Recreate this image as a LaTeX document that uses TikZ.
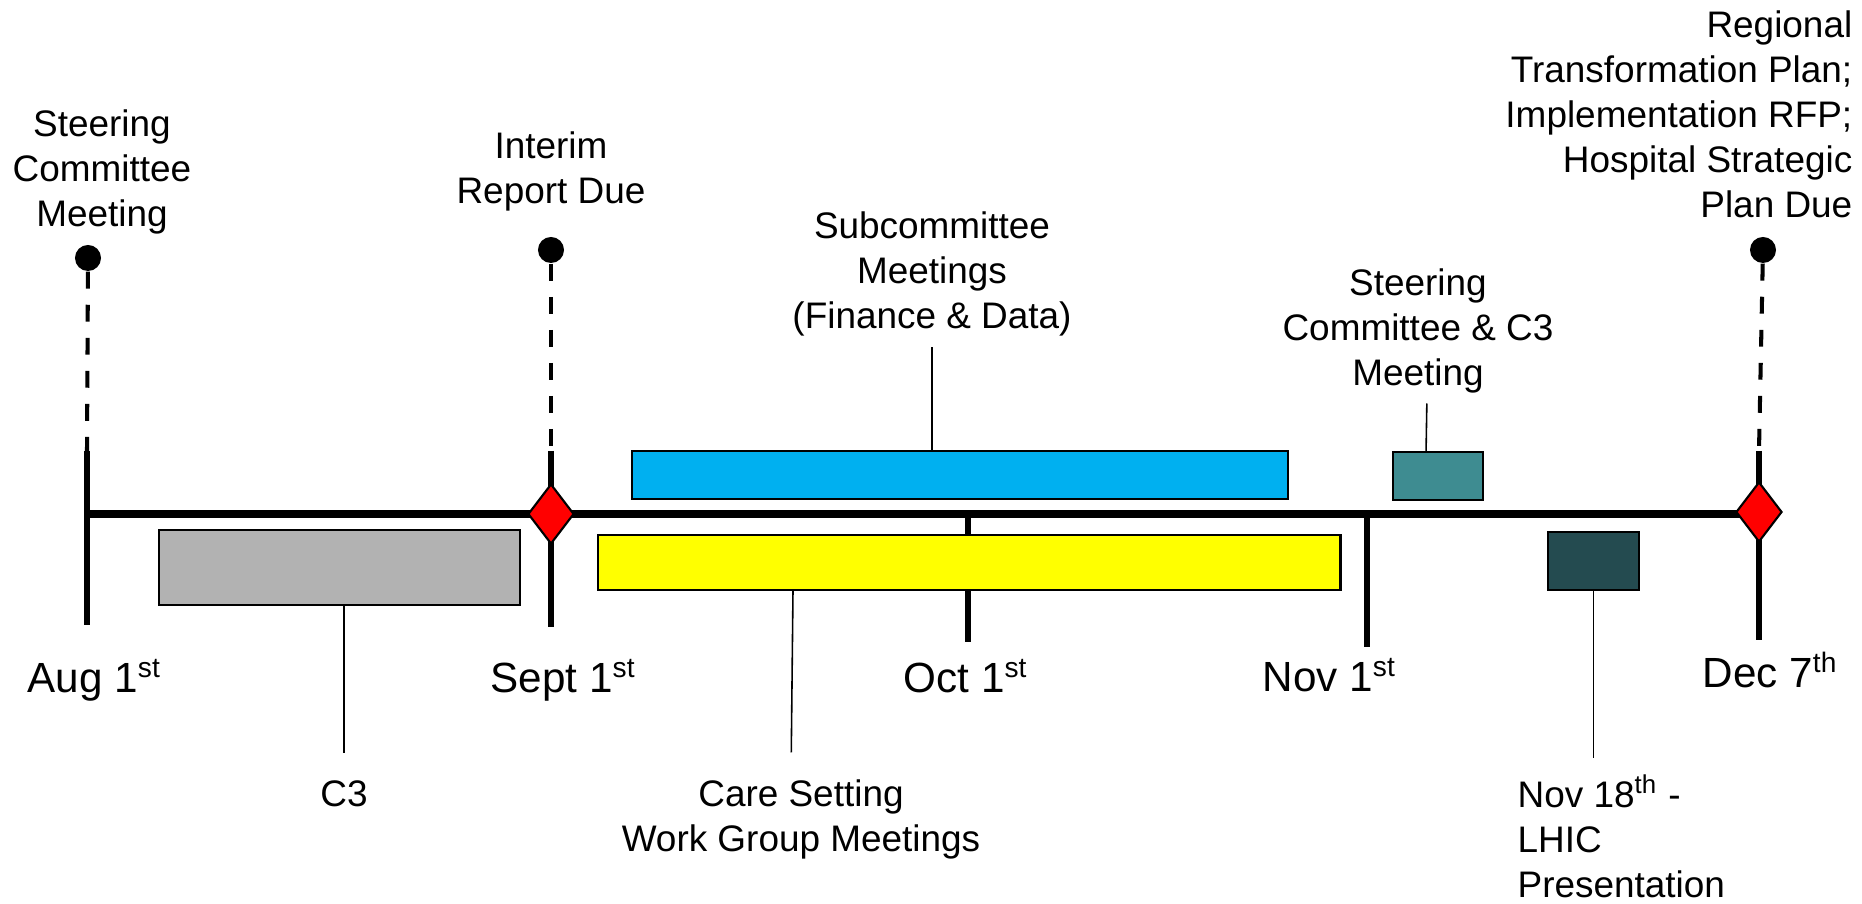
\documentclass[tikz,border=0pt]{standalone}
\usepackage{fontspec}
\setmainfont{Liberation Sans}
\usetikzlibrary{shapes.geometric}

\definecolor{cthree}{HTML}{B2B2B2}
\definecolor{subcom}{HTML}{00B0F0}
\definecolor{workgrp}{HTML}{FFFF00}
\definecolor{steer}{HTML}{3E8C91}
\definecolor{lhic}{HTML}{244B50}

\begin{document}
\begin{tikzpicture}[x=0.01cm,y=-0.01cm,
    lbl/.style={inner sep=0pt,font=\fontsize{10.5}{12.8}\selectfont},
    datelbl/.style={inner sep=0pt,anchor=base west,font=\fontsize{12}{14}\selectfont},
    bar/.style={draw,line width=0.6pt,anchor=north west,inner sep=0pt},
    tick/.style={line width=1.45pt},
    dashline/.style={line width=1.15pt,dash pattern=on 4.8pt off 4.6pt},
    link/.style={line width=0.45pt},
    dot/.style={circle,fill,inner sep=0pt,minimum size=0.26cm},
    due/.style={diamond,draw,fill=red,line width=0.6pt,inner sep=0pt,
      minimum width=0.46cm,minimum height=0.6cm}]
  \useasboundingbox (0,0) rectangle (1862,904);
  % months on the axis
  \coordinate (augT) at (87,451);   \coordinate (augB) at (87,625);
  \coordinate (sepT) at (551,451);  \coordinate (sepB) at (551,627);
  \coordinate (octT) at (968,514);  \coordinate (octB) at (968,642);
  \coordinate (novT) at (1367,514); \coordinate (novB) at (1367,647);
  \coordinate (decT) at (1759,451); \coordinate (decB) at (1759,640);
  \foreach \m in {aug,sep,oct,nov,dec} \draw[tick] (\m T) -- (\m B);
  \draw[line width=2.3pt] (augT |- octT) -- (decT |- octT);
  \node[datelbl] (augLbl) at (27,693) {Aug 1\textsuperscript{st}};
  \node[datelbl] (sepLbl) at (490,693) {Sept 1\textsuperscript{st}};
  \node[datelbl] (octLbl) at (903,693) {Oct 1\textsuperscript{st}};
  \node[datelbl] (novLbl) at (1262,692) {Nov 1\textsuperscript{st}};
  \node[datelbl] (decLbl) at (1702,688) {Dec 7\textsuperscript{th}};
  % bars
  \node[bar,fill=cthree,minimum width=3.61cm,minimum height=0.75cm] (c3Bar) at (158,529) {};
  \node[bar,fill=subcom,minimum width=6.56cm,minimum height=0.48cm] (subBar) at (631,450) {};
  \node[bar,fill=workgrp,minimum width=7.42cm,minimum height=0.55cm] (careBar) at (597,534) {};
  \node[bar,fill=steer,minimum width=0.90cm,minimum height=0.48cm] (steerBar) at (1392,451) {};
  \node[bar,fill=lhic,minimum width=0.91cm,minimum height=0.58cm] (lhicBar) at (1547,531) {};
  % milestones
  \node[due] (sepDue) at (sepT |- octT) {};
  \node[due] (decDue) at (1759,512) {};
  \node[dot] (stcDot) at (88,258) {};
  \node[dot] (intDot) at (551,250) {};
  \node[dot] (rtpDot) at (1763,250) {};
  \path[dashline] (stcDot) edge (augT) (intDot) edge (sepT) (rtpDot) edge (decT);
  % texts (base = last line)
  \node[lbl,align=center,anchor=base] (stc) at (102,227) {Steering\\Committee\\Meeting};
  \node[lbl,align=center,anchor=base] (interim) at (551,204) {Interim\\Report Due};
  \node[lbl,align=center,anchor=base] (subc) at (932,329) {Subcommittee\\Meetings\\(Finance \& Data)};
  \node[lbl,align=center,anchor=base] (scc3) at (1418,386) {Steering\\Committee \& C3\\Meeting};
  \node[lbl,align=right,anchor=base east] (rtp) at (1853,218)
    {Regional\\Transformation Plan;\\Implementation RFP;\\Hospital Strategic\\Plan Due};
  \node[lbl,anchor=base] (c3Lbl) at (344,807) {C3};
  \node[lbl,align=center,anchor=base] (care) at (801,852) {Care Setting\\Work Group Meetings};
  \node[lbl,align=left,anchor=base west] (nov18) at (1517,898) {Nov 18\textsuperscript{th} -\\LHIC\\Presentation};
  \path[link] (subc.south) edge[shorten <=2.8pt] (subc.south |- subBar.north)
    ([xshift=0.09cm]scc3.south) edge[shorten <=2.6pt] ([xshift=-0.12cm]steerBar.north)
    (c3Lbl.north |- c3Bar.south) edge[shorten >=7.7pt] (c3Lbl.north)
    ([xshift=-0.08cm]care.north |- careBar.south) edge[shorten >=7.7pt] ([xshift=-0.1cm]care.north)
    (lhicBar.south) edge[shorten >=4.8pt] (lhicBar.south |- nov18.north);
\end{tikzpicture}
\end{document}
